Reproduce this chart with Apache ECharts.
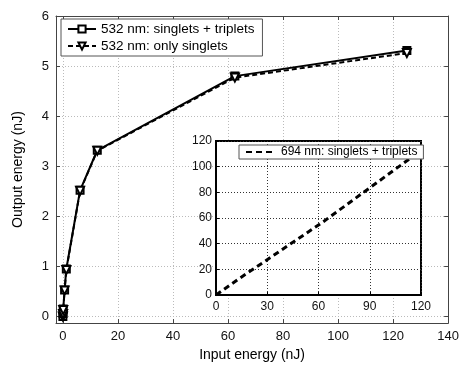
<!DOCTYPE html>
<html><head><meta charset="utf-8">
<script src="https://cdn.jsdelivr.net/npm/echarts@6/dist/echarts.min.js"></script>
<style>html,body{margin:0;padding:0;background:#fff}#c{width:462px;height:367px}</style>
</head><body><div id="c"></div>
<script>
// Main chart data (input energy nJ -> output energy nJ)
var inputEnergy = [0, 0.0625, 0.125, 0.625, 1.25, 6.25, 12.5, 62.5, 125];
var outSingTrip = [0.0, 0.06, 0.15, 0.53, 0.95, 2.52, 3.32, 4.80, 5.31];
var outSingOnly = [0.0, 0.05, 0.13, 0.52, 0.93, 2.51, 3.31, 4.77, 5.26];
var mainXTicks = [0, 20, 40, 60, 80, 100, 120, 140];
var mainYTicks = [0, 1, 2, 3, 4, 5, 6];
// Inset data (694 nm)
var insetX = [0, 12.5, 62.5, 125];
var insetY = [0, 11.8, 56.8, 117.5];
var insetXTicks = [0, 30, 60, 90, 120];
var insetYTicks = [0, 20, 40, 60, 80, 100, 120];

var FONT = 'Liberation Sans, Arial, Helvetica, sans-serif';
function pairs(xs, ys){ return xs.map(function(x,i){return [x, ys[i]];}); }

var chart = echarts.init(document.getElementById('c'), null, {renderer:'canvas'});
var axisLineMain = {show:true, onZero:false, lineStyle:{color:'#444', width:1}};
var gridMain = {show:true, lineStyle:{color:'#bbb', type:[1,2], width:1}};
var option = {
  backgroundColor:'#fff',
  animation:false,
  grid:[
    {left:56, right:11, top:16, bottom:36, containLabel:false},
    {left:216, right:41, top:141, bottom:72, show:true, backgroundColor:'#fff', borderColor:'#000', borderWidth:2, z:5}
  ],
  xAxis:[
    {gridIndex:0, type:'value', min:-2.5, max:140, position:'bottom',
     name:'Input energy (nJ)', nameLocation:'middle', nameGap:22,
     nameTextStyle:{fontFamily:FONT, fontSize:14, color:'#000'},
     axisLine:axisLineMain,
     axisTick:{show:true, inside:true, length:4, customValues:mainXTicks, lineStyle:{color:'#444'}},
     axisLabel:{customValues:mainXTicks, fontFamily:FONT, fontSize:13, color:'#111', margin:7},
     splitLine:Object.assign({customValues:mainXTicks.slice(0,7)}, gridMain)},
    {gridIndex:0, type:'value', min:-2.5, max:140, position:'top',
     axisLine:axisLineMain,
     axisTick:{show:true, inside:true, length:4, customValues:mainXTicks, lineStyle:{color:'#444'}},
     axisLabel:{show:false}, splitLine:{show:false}},
    {gridIndex:1, type:'value', min:0, max:120, interval:30, position:'bottom', z:6,
     axisLine:{show:true, onZero:false, lineStyle:{color:'#000', width:2}},
     axisTick:{show:true, inside:true, length:3, lineStyle:{color:'#000'}},
     axisLabel:{fontFamily:FONT, fontSize:12, color:'#111', margin:6},
     splitLine:{show:true, lineStyle:{color:'#333', type:[1,2], width:1}}}
  ],
  yAxis:[
    {gridIndex:0, type:'value', min:-0.13, max:6, position:'left',
     name:'Output energy (nJ)', nameLocation:'middle', nameGap:31,
     nameTextStyle:{fontFamily:FONT, fontSize:14, color:'#000'},
     axisLine:axisLineMain,
     axisTick:{show:true, inside:true, length:4, customValues:mainYTicks, lineStyle:{color:'#444'}},
     axisLabel:{customValues:mainYTicks, fontFamily:FONT, fontSize:13, color:'#111', margin:7},
     splitLine:Object.assign({customValues:mainYTicks.slice(0,6)}, gridMain)},
    {gridIndex:0, type:'value', min:-0.13, max:6, position:'right',
     axisLine:axisLineMain,
     axisTick:{show:true, inside:true, length:4, customValues:mainYTicks, lineStyle:{color:'#444'}},
     axisLabel:{show:false}, splitLine:{show:false}},
    {gridIndex:1, type:'value', min:0, max:120, interval:20, position:'left', z:6,
     axisLine:{show:true, onZero:false, lineStyle:{color:'#000', width:2}},
     axisTick:{show:true, inside:true, length:3, lineStyle:{color:'#000'}},
     axisLabel:{fontFamily:FONT, fontSize:12, color:'#111', margin:4},
     splitLine:{show:true, lineStyle:{color:'#333', type:[1,2], width:1}}}
  ],
  legend:[
    {orient:'vertical', left:61, top:19, z:10, backgroundColor:'#fff', borderColor:'#555', borderWidth:1,
     padding:[3,8,3,6], itemGap:3, itemWidth:28, itemHeight:9,
     textStyle:{fontFamily:FONT, fontSize:13.5, color:'#000'},
     data:['532 nm: singlets + triplets','532 nm: only singlets']},
    {orient:'vertical', left:239, top:145, z:10, backgroundColor:'#fff', borderColor:'#555', borderWidth:1,
     padding:[1,6,1,6], itemWidth:30, itemHeight:10,
     itemStyle:{opacity:0},
     textStyle:{fontFamily:FONT, fontSize:12, color:'#000'},
     data:['694 nm: singlets + triplets']}
  ],
  series:[
    {name:'532 nm: singlets + triplets', type:'line', xAxisIndex:0, yAxisIndex:0,
     data:pairs(inputEnergy, outSingTrip), symbol:'emptyRect', symbolSize:7,
     lineStyle:{color:'#000', width:2}, itemStyle:{color:'#000', borderWidth:1.5}, z:3},
    {name:'532 nm: only singlets', type:'line', xAxisIndex:0, yAxisIndex:0,
     data:pairs(inputEnergy, outSingOnly), symbol:'emptyTriangle', symbolRotate:180, symbolSize:8,
     lineStyle:{color:'#000', width:2, type:[5,3]}, itemStyle:{color:'#000', borderWidth:1.5}, z:3},
    {name:'694 nm: singlets + triplets', type:'line', xAxisIndex:2, yAxisIndex:2,
     data:pairs(insetX, insetY), symbol:'none', clip:true,
     lineStyle:{color:'#000', width:3, type:[6,4]}, itemStyle:{color:'#000'}, z:7}
  ]
};
chart.setOption(option);
</script></body></html>
